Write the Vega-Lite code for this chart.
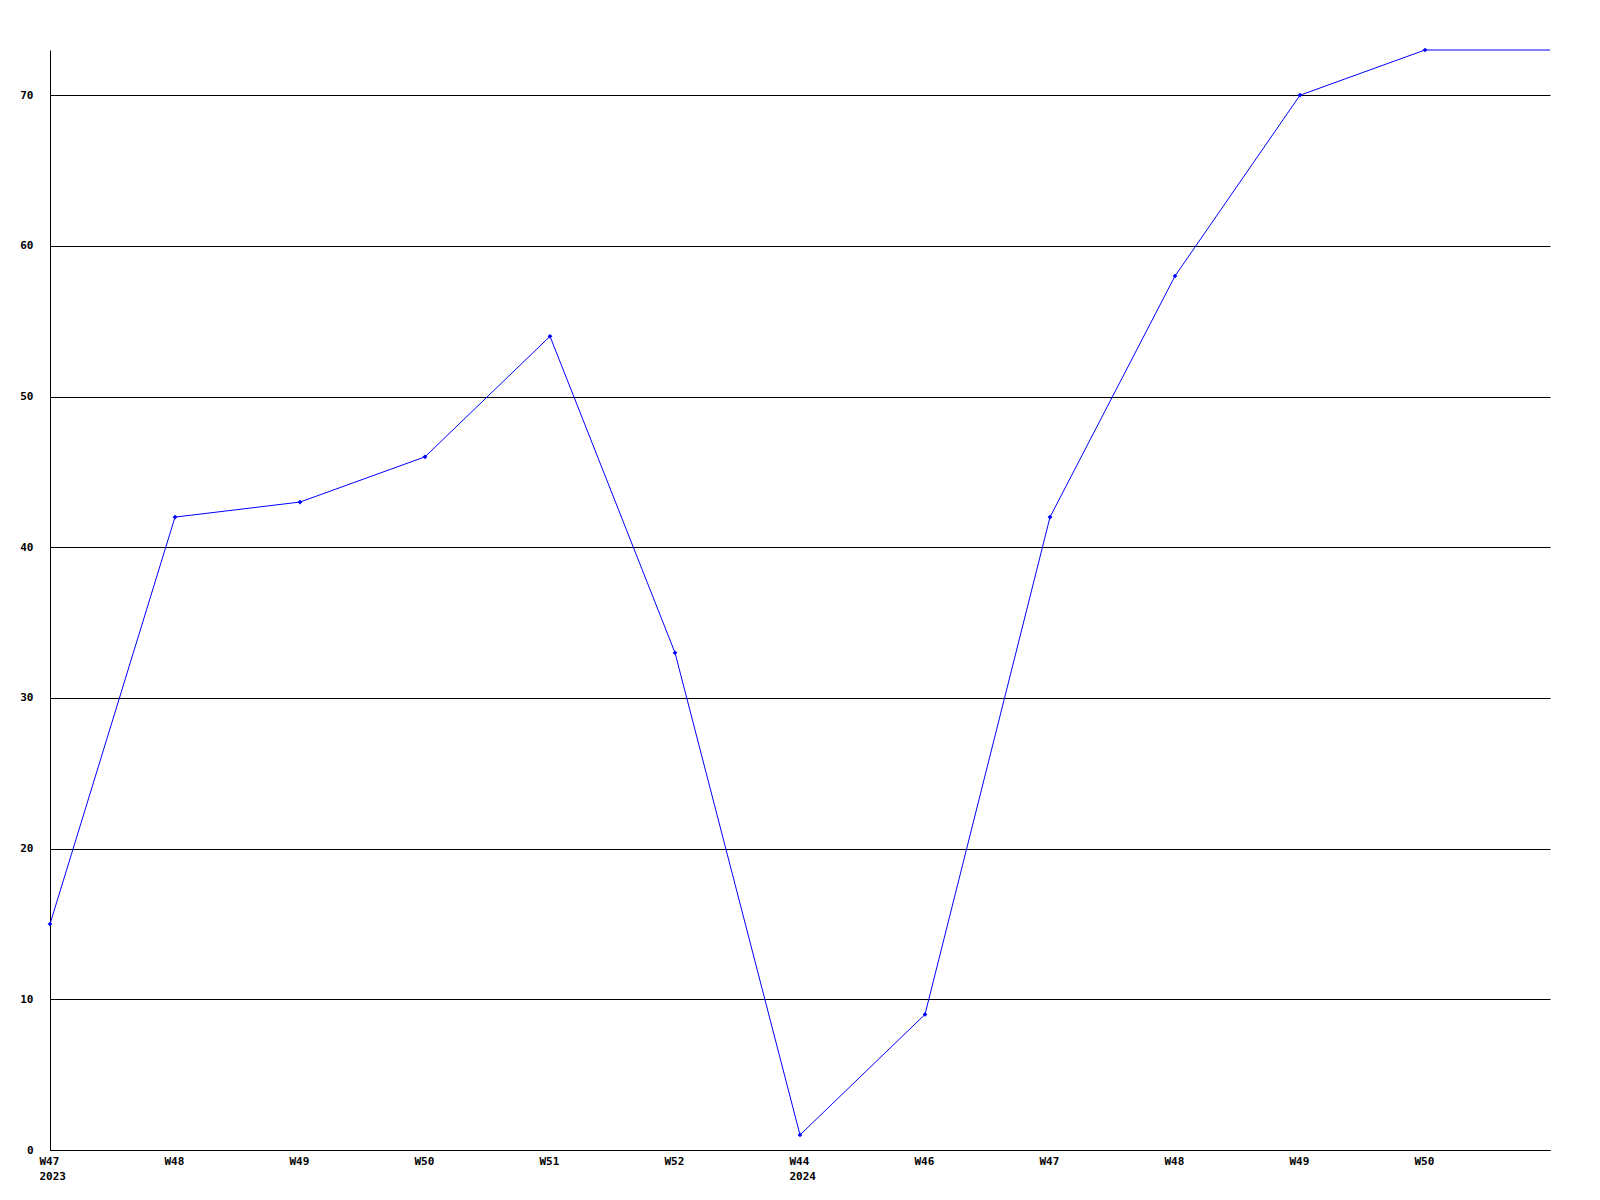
{
  "$schema": "https://vega.github.io/schema/vega-lite/v6.json",
  "autosize": "none",
  "width": 1500,
  "height": 1100,
  "padding": {"left": 50, "top": 50, "right": 49, "bottom": 50},
  "background": "white",
  "config": {"view": {"stroke": null}},
  "data": {
    "values": [
      {"k": "2023-W47*", "v": 15, "pt": true},
      {"k": "2023-W48", "v": 42, "pt": true},
      {"k": "2023-W49", "v": 43, "pt": true},
      {"k": "2023-W50", "v": 46, "pt": true},
      {"k": "2023-W51", "v": 54, "pt": true},
      {"k": "2023-W52", "v": 33, "pt": true},
      {"k": "2024-W44*", "v": 1, "pt": true},
      {"k": "2024-W46", "v": 9, "pt": true},
      {"k": "2024-W47", "v": 42, "pt": true},
      {"k": "2024-W48", "v": 58, "pt": true},
      {"k": "2024-W49", "v": 70, "pt": true},
      {"k": "2024-W50", "v": 73, "pt": true},
      {"k": "end", "v": 73, "pt": false}
    ]
  },
  "encoding": {
    "x": {
      "field": "k",
      "type": "ordinal",
      "sort": null,
      "scale": {"type": "point", "padding": 0},
      "axis": {
        "title": null,
        "labelAngle": 0,
        "labelAlign": "left",
        "labelBaseline": "top",
        "labelOffset": -11,
        "labelPadding": 5,
        "labelLineHeight": 15,
        "labelFont": "DejaVu Sans Mono",
        "labelFontWeight": "bold",
        "labelFontSize": 11,
        "labelColor": "black",
        "labelExpr": "indexof(datum.value, '*') >= 0 ? [slice(datum.value, 5, 8), slice(datum.value, 0, 4)] : slice(datum.value, 5, 8)",
        "ticks": false,
        "grid": false,
        "domain": true,
        "domainColor": "black",
        "domainWidth": 1
      }
    },
    "y": {
      "field": "v",
      "type": "quantitative",
      "scale": {"domain": [0, 73], "nice": false, "zero": true},
      "axis": {
        "title": null,
        "values": [0, 10, 20, 30, 40, 50, 60, 70],
        "ticks": false,
        "grid": true,
        "gridColor": "black",
        "gridWidth": 1,
        "gridOpacity": 1,
        "domain": true,
        "domainColor": "black",
        "labelPadding": 17,
        "labelFont": "DejaVu Sans Mono",
        "labelFontWeight": "bold",
        "labelFontSize": 11,
        "labelColor": "black"
      }
    }
  },
  "layer": [
    {"mark": {"type": "line", "color": "#0000ff", "strokeWidth": 1}},
    {
      "transform": [{"filter": "datum.pt"}],
      "mark": {"type": "point", "shape": "diamond", "filled": true, "color": "#0000ff", "size": 22, "opacity": 1}
    }
  ]
}
